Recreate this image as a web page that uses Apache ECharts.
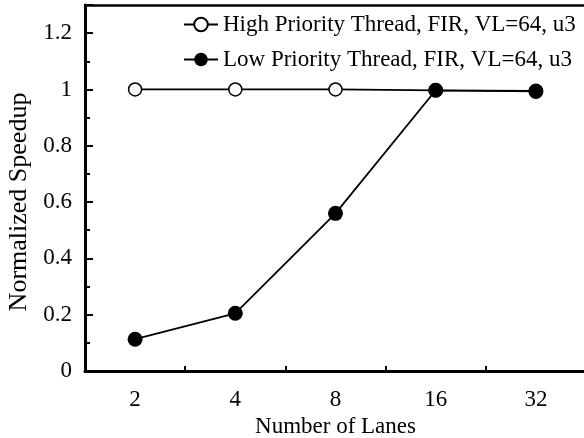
<!DOCTYPE html>
<html>
<head>
<meta charset="utf-8">
<script src="https://cdn.jsdelivr.net/npm/echarts@6/dist/echarts.min.js"></script>
<style>html,body{margin:0;padding:0;background:#fff;}#c{width:584px;height:438px;}</style>
</head>
<body>
<div id="c"></div>
<script>
const lanes = ['2', '4', '8', '16', '32'];
const highPriority = [1.0, 1.0, 1.0, 0.997, 0.995];
const lowPriority = [0.113, 0.205, 0.560, 0.997, 0.993];
const seriesNames = ['High Priority Thread, FIR, VL=64, u3', 'Low Priority Thread, FIR, VL=64, u3'];
const xName = 'Number of Lanes';
const yName = 'Normalized Speedup';

const FONT = 'Liberation Serif';
const chart = echarts.init(document.getElementById('c'), null, {renderer: 'canvas'});
chart.setOption({
  animation: false,
  backgroundColor: '#fff',
  textStyle: {fontFamily: FONT, color: '#000'},
  grid: {left: 85, right: -2, top: 5, bottom: 67, show: false,
         outerBoundsMode: 'none', containLabel: false},
  legend: {
    orient: 'vertical', left: 178, top: 8, itemWidth: 34, itemHeight: 17, itemGap: 12, itemTextGap: 5,
    textStyle: {fontFamily: FONT, fontSize: 23, color: '#000'},
    data: seriesNames
  },
  xAxis: [
    {
      type: 'category', data: lanes, boundaryGap: true, position: 'bottom',
      axisLine: {lineStyle: {color: '#000', width: 3}},
      axisTick: {inside: true, alignWithLabel: true, length: 8, lineStyle: {color: '#000', width: 2}},
      axisLabel: {fontFamily: FONT, fontSize: 23, color: '#000', margin: 17},
      splitLine: {show: false},
      name: xName, nameLocation: 'middle', nameGap: 41,
      nameTextStyle: {fontFamily: FONT, fontSize: 23, color: '#000'}
    },
    {
      type: 'category', data: lanes, boundaryGap: true, position: 'bottom', offset: 0,
      axisLine: {show: false},
      axisTick: {show: true, inside: true, alignWithLabel: false, length: 5, lineStyle: {color: '#000', width: 2}},
      axisLabel: {show: false}, splitLine: {show: false}
    },
    {
      type: 'category', data: lanes, boundaryGap: true, position: 'top', offset: 0,
      axisLine: {show: true, lineStyle: {color: '#000', width: 2.5}},
      axisTick: {show: false}, axisLabel: {show: false}, splitLine: {show: false}
    }
  ],
  yAxis: [
    {
      type: 'value', min: 0, max: 1.3, interval: 0.2, position: 'left',
      axisLine: {show: true, lineStyle: {color: '#000', width: 3}},
      axisTick: {show: true, inside: true, length: 8, lineStyle: {color: '#000', width: 2}},
      axisLabel: {
        fontFamily: FONT, fontSize: 23, color: '#000', margin: 13,
        formatter: function (v) {
          const r = Math.round(v * 10);
          if (r % 2 !== 0 || Math.abs(v * 10 - r) > 1e-6) return '';
          return String(Math.round(v * 10) / 10);
        }
      },
      splitLine: {show: false},
      name: yName, nameLocation: 'middle', nameGap: 48, nameRotate: 90,
      nameTextStyle: {fontFamily: FONT, fontSize: 26, color: '#000', padding: [0, 28, 0, 0]}
    },
    {
      type: 'value', min: 0, max: 1.3, interval: 0.1, position: 'left', offset: 0,
      axisLine: {show: false},
      axisTick: {show: true, inside: true, length: 5, lineStyle: {color: '#000', width: 2}},
      axisLabel: {show: false}, splitLine: {show: false}
    }
  ],
  series: [
    {
      name: seriesNames[0], type: 'line', data: highPriority, xAxisIndex: 0, yAxisIndex: 0,
      symbol: 'circle', symbolSize: 13, showAllSymbol: true,
      lineStyle: {color: '#000', width: 1.8},
      itemStyle: {color: '#fff', borderColor: '#000', borderWidth: 1.5},
      z: 3
    },
    {
      name: seriesNames[1], type: 'line', data: lowPriority, xAxisIndex: 0, yAxisIndex: 0,
      symbol: 'circle', symbolSize: 15, showAllSymbol: true,
      lineStyle: {color: '#000', width: 1.8},
      itemStyle: {color: '#000', borderColor: '#000', borderWidth: 0},
      z: 4
    }
  ]
});
</script>
</body>
</html>
